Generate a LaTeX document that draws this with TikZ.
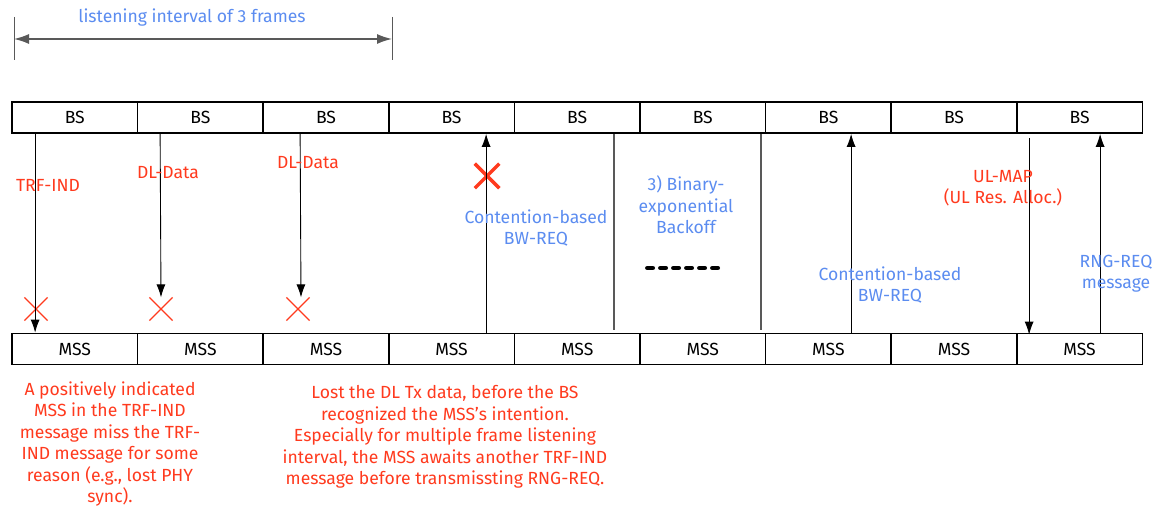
\documentclass[tikz,border=0pt]{standalone}
\usepackage{fontspec}
\setmainfont{Fira Sans}
\usepackage{tikz}
\usetikzlibrary{arrows.meta,positioning,calc,shapes.misc}
\definecolor{msgred}{HTML}{FF3A1E}
\definecolor{msgblue}{HTML}{5B8CF0}

\begin{document}
\begin{tikzpicture}[font=\fontsize{10}{12.2}\selectfont,
  frm/.style={draw,line width=1pt,minimum width=2.512cm,minimum height=0.62cm,inner sep=0pt},
  arr/.style={-{Latex[length=2.6mm,width=1.8mm]},line width=0.5pt},
  lost/.style={draw=msgred,cross out,minimum size=0.44cm,inner sep=0pt,line width=0.7pt},
  dn/.style={text=msgred,align=center},
  up/.style={text=msgblue,align=center}]
\useasboundingbox (0,0) rectangle (23.26,10.2);
% frames
\foreach \i in {1,...,9}{
  \node[frm] (bs\i) at ({0.24+(\i-0.5)*2.512},7.85) {BS};
  \node[frm] (mss\i) at ({0.24+(\i-0.5)*2.512},3.22) {MSS};
}
% listening interval
\coordinate (li) at (0.28,9.42);\coordinate (ri) at (7.84,9.42);
\draw[gray!70!black] ([yshift=0.44cm]li)--([yshift=-0.42cm]li) ([yshift=0.44cm]ri)--([yshift=-0.42cm]ri);
\draw[{Latex[length=3mm,width=2mm]}-{Latex[length=3mm,width=2mm]},gray!70!black,line width=0.8pt](li)--(ri);
\node[up] (lbl) at (3.84,9.84) {listening interval of 3 frames};
% lost messages
\node[lost] (x1) at (0.72,4.02) {};
\node[lost] (x2) at (3.22,4.02) {};
\node[lost] (x3) at (5.96,4.02) {};
\node[lost,minimum size=0.42cm,line width=2pt] (x4) at (9.74,6.68) {};
\draw[arr]([xshift=0.48cm]bs1.south west)--([xshift=0.48cm]mss1.north west);
\draw[arr]([xshift=0.468cm]bs2.south west)--(x2.north);
\draw[arr]([xshift=0.756cm]bs3.south west)--([xshift=0.06cm]x3.north);
\draw[arr]([xshift=1.964cm]mss4.north west)--([xshift=1.964cm]bs4.south west);
\draw[gray!70!black,line width=0.8pt]([xshift=2.012cm]bs5.south west)--([xshift=2.012cm,yshift=0.06cm]mss5.north west);
\draw[gray!70!black,line width=0.8pt]([xshift=2.44cm]bs6.south west)--([xshift=2.44cm,yshift=0.06cm]mss6.north west);
\draw[arr]([xshift=1.728cm]mss7.north west)--([xshift=1.728cm]bs7.south west);
\draw[arr]([xshift=0.264cm,yshift=-0.08cm]bs9.south west)--([xshift=0.264cm,yshift=-0.04cm]mss9.north west);
\draw[arr]([xshift=1.684cm]mss9.north west)--([xshift=1.684cm]bs9.south west);
% labels
\node[dn] (trf) at (0.96,6.5) {TRF-IND};
\node[dn] (dl1) at (3.36,6.74) {DL-Data};
\node[dn] (dl2) at (6.16,6.94) {DL-Data};
\node[up] (bw1) at (10.72,5.64) {Contention-based\\BW-REQ};
\node[up] (beb) at (13.72,6.1) {3) Binary-\\exponential\\Backoff};
\draw[line width=2.8pt,line cap=round,dash pattern=on 2.9pt off 4.5pt](12.95,4.84)--(14.4,4.84);
\node[up] (bw2) at (17.8,4.5) {Contention-based\\BW-REQ};
\node[dn] (map) at (20.06,6.44) {UL-MAP\\(UL Res. Alloc.)};
\node[up] (rng) at (22.32,4.72) {RNG-REQ\\message};
\node[dn] (n1) at (2.2,1.32) {A positively indicated\\MSS in the TRF-IND\\message miss the TRF-\\IND message for some\\reason (e.g., lost PHY\\sync).};
\node[dn] (n2) at (8.9,1.46) {Lost the DL Tx data, before the BS\\recognized the MSS's intention.\\Especially for multiple frame listening\\interval, the MSS awaits another TRF-IND\\message before transmissting RNG-REQ.};
\end{tikzpicture}
\end{document}
